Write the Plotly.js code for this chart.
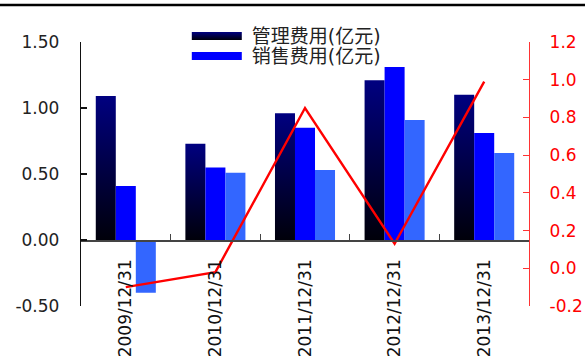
<!DOCTYPE html>
<html>
<head>
<meta charset="utf-8">
<script src="https://cdn.plot.ly/plotly-3.0.1.min.js"></script>
<style>
  html, body { margin: 0; padding: 0; background: #ffffff; }
  #chart { width: 585px; height: 362px; }
</style>
</head>
<body>
<!-- vertical navy-to-black fill used by the 管理费用 bars -->
<svg width="0" height="0" style="position:absolute">
  <defs>
    <linearGradient id="navyFade" x1="0" y1="0" x2="0" y2="1">
      <stop offset="0" stop-color="#000080"/>
      <stop offset="1" stop-color="#00000a"/>
    </linearGradient>
  </defs>
</svg>
<div id="chart"></div>
<script>
// Reporting dates
const categories = ['2009/12/31', '2010/12/31', '2011/12/31', '2012/12/31', '2013/12/31'];

// Expense series, 亿元 (left axis)
const mgmtFee  = [1.09, 0.73, 0.96, 1.21, 1.10];
const salesFee = [0.41, 0.55, 0.85, 1.31, 0.81];
const finFee   = [-0.40, 0.51, 0.53, 0.91, 0.66];

// Ratio series (right axis)
const rightSeries = [-0.10, -0.02, 0.85, 0.13, 0.99];

// Axis ticks
const leftTicks  = [-0.5, 0, 0.5, 1.0, 1.5];
const rightTicks = [-0.2, 0, 0.2, 0.4, 0.6, 0.8, 1.0, 1.2];

const baseFont = 'DejaVu Sans, Noto Sans CJK SC, sans-serif';

const traces = [
  { type: 'bar', name: '管理费用(亿元)', x: categories, y: mgmtFee,
    marker: { color: '#000060' }, hoverinfo: 'x+y' },
  { type: 'bar', name: '销售费用(亿元)', x: categories, y: salesFee,
    marker: { color: '#0000ff' }, hoverinfo: 'x+y' },
  { type: 'bar', name: '财务费用(亿元)', x: categories, y: finFee,
    marker: { color: '#3366ff' }, showlegend: false, hoverinfo: 'x+y' },
  { type: 'scatter', mode: 'lines', name: '比率', x: categories, y: rightSeries,
    yaxis: 'y2', line: { color: '#ff0000', width: 2.4 }, showlegend: false }
];

const layout = {
  width: 585, height: 362,
  margin: { l: 81, r: 56, t: 42, b: 56, pad: 0 },
  paper_bgcolor: '#ffffff', plot_bgcolor: 'rgba(0,0,0,0)',
  font: { family: baseFont, size: 17, color: '#222222' },
  barmode: 'group', bargap: 0.33, bargroupgap: 0,
  showlegend: true,
  legend: {
    x: 0.225, y: 1.094, xanchor: 'left', yanchor: 'top',
    orientation: 'v', bgcolor: 'rgba(0,0,0,0)', borderwidth: 0,
    itemwidth: 60, tracegroupgap: 0,
    font: { family: baseFont, size: 19, color: '#222222' }
  },
  xaxis: {
    type: 'category', anchor: 'free', position: 0.25,
    showline: true, linecolor: '#444444', linewidth: 1.5,
    ticks: 'inside', tickson: 'boundaries', ticklen: 6, tickwidth: 1.2, tickcolor: '#444444',
    tickangle: -90, ticklabelstandoff: 11,
    tickfont: { size: 17, color: '#111111' },
    showgrid: false, zeroline: false, automargin: false, fixedrange: true
  },
  yaxis: {
    range: [-0.5, 1.5], tickvals: leftTicks, ticktext: leftTicks.map(v => v.toFixed(2)),
    showline: true, linecolor: '#111111', linewidth: 1.2,
    ticks: 'inside', ticklen: 6, tickwidth: 1.2, tickcolor: '#111111',
    ticklabelstandoff: 17,
    tickfont: { size: 17, color: '#222222' },
    showgrid: false, zeroline: false, automargin: false, fixedrange: true
  },
  yaxis2: {
    overlaying: 'y', side: 'right', range: [-0.2, 1.2],
    tickvals: rightTicks, ticktext: rightTicks.map(v => v.toFixed(1)),
    showline: true, linecolor: '#ff3333', linewidth: 1.2,
    ticks: 'inside', ticklen: 6, tickwidth: 1.2, tickcolor: '#ff3333',
    ticklabelstandoff: 16,
    tickfont: { size: 17, color: '#ff0000' },
    showgrid: false, zeroline: false, automargin: false, fixedrange: true
  },
  shapes: [
    // black rule across the top of the figure
    { type: 'line', xref: 'paper', yref: 'paper', x0: -0.3, x1: 1.3, y0: 1.14, y1: 1.14,
      line: { color: '#000000', width: 2.5 } }
  ]
};

function parseTranslate(el) {
  const m = /translate\(\s*([-\d.e]+)[ ,]+([-\d.e]+)\s*\)/.exec(el.getAttribute('transform') || '');
  return m ? [parseFloat(m[1]), parseFloat(m[2])] : [0, 0];
}

// Gradient fill for the first bar series, wide legend swatches, tight legend rows
function restyleMarks(gd) {
  const barTraces = gd.querySelectorAll('.barlayer .trace.bars');
  if (barTraces[0]) {
    barTraces[0].querySelectorAll('path').forEach(p => { p.style.fill = 'url(#navyFade)'; });
  }
  const items = gd.querySelectorAll('.legend .traces');
  let first = null;
  items.forEach((item, i) => {
    const p = item.querySelector('.legendpoints path');
    if (p) {
      p.setAttribute('d', 'M-25,-4H25V4H-25Z');
      p.style.strokeWidth = '0';
      if (i === 0) p.style.fill = 'url(#navyFade)';
    }
    if (i === 0) {
      first = parseTranslate(item);
    } else if (first) {
      item.setAttribute('transform', 'translate(' + first[0] + ',' + (first[1] + 20 * i) + ')');
    }
  });
}

const gd = document.getElementById('chart');
Plotly.newPlot(gd, traces, layout, { displayModeBar: false, staticPlot: true }).then(() => {
  restyleMarks(gd);
  gd.on('plotly_afterplot', () => restyleMarks(gd));
});
</script>
</body>
</html>
